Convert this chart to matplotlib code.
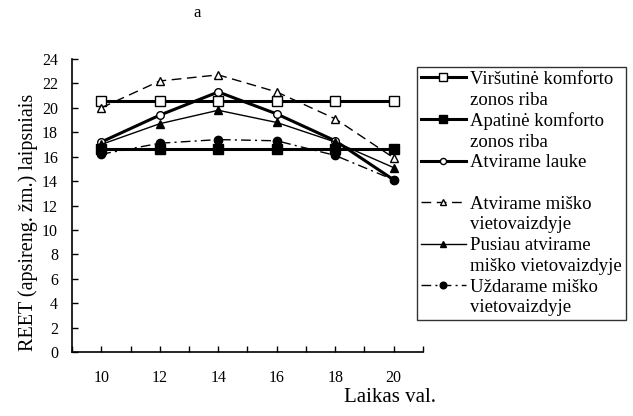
import matplotlib.pyplot as plt
from matplotlib.lines import Line2D

plt.rcParams['font.family'] = ['Liberation Serif', 'DejaVu Serif']

# Hours of the day and REET values (°C) for each site
hours = [10, 12, 14, 16, 18, 20]
upper_limit = [20.6, 20.6, 20.6, 20.6, 20.6, 20.6]
lower_limit = [16.6, 16.6, 16.6, 16.6, 16.6, 16.6]
open_field = [17.2, 19.4, 21.3, 19.5, 17.3, 14.1]
open_forest = [20.0, 22.2, 22.7, 21.3, 19.1, 15.9]
semi_open_forest = [17.0, 18.7, 19.8, 18.8, 17.2, 15.1]
closed_forest = [16.2, 17.1, 17.4, 17.3, 16.1, 14.1]

labels = [
    ['Viršutinė komforto', 'zonos riba'],
    ['Apatinė komforto', 'zonos riba'],
    ['Atvirame lauke', ''],
    ['Atvirame miško', 'vietovaizdyje'],
    ['Pusiau atvirame', 'miško vietovaizdyje'],
    ['Uždarame miško', 'vietovaizdyje'],
]

fig = plt.figure(figsize=(6.33, 4.16), dpi=100)
ax = fig.add_axes([72 / 633, 1 - 352 / 416, (423 - 72) / 633, (352 - 59) / 416])

styles = [
    dict(color='black', lw=2.2, ls='-', marker='s', ms=6.5, mfc='white', mec='black', mew=1),
    dict(color='black', lw=2.2, ls='-', marker='s', ms=6.5, mfc='black', mec='black'),
    dict(color='black', lw=2.2, ls='-', marker='o', ms=5.5, mfc='white', mec='black', mew=1),
    dict(color='black', lw=1.0, ls=(0, (7, 4)), marker='^', ms=6, mfc='white', mec='black', mew=1),
    dict(color='black', lw=1.0, ls='-', marker='^', ms=6, mfc='black', mec='black'),
    dict(color='black', lw=1.0, ls=(0, (7, 3, 1.5, 3)), marker='o', ms=6, mfc='black', mec='black'),
]
series = [upper_limit, lower_limit, open_field, open_forest, semi_open_forest, closed_forest]

for vals, st in zip(series, styles):
    ax.plot(hours, vals, clip_on=False, **st)

ax.set_xlim(9, 21)
ax.set_ylim(0, 24)
ax.set_xticks(range(9, 22))
ax.set_xticklabels(['' if h % 2 else str(h) for h in range(9, 22)])
ax.set_yticks(range(0, 25, 2))
ax.tick_params(axis='both', direction='in', length=4, width=1, labelsize=11.5)
ax.tick_params(axis='x', pad=13)
ax.tick_params(axis='y', pad=10)
for side in ['top', 'right']:
    ax.spines[side].set_visible(False)
for side in ['left', 'bottom']:
    ax.spines[side].set_linewidth(1.2)

ax.set_ylabel('REET (apsireng. žm.) laipsniais', fontsize=14.5)
ax.yaxis.set_label_coords(-(72 - 28) / 351, (352 - 222) / 293)
ax.yaxis.label.set_va('center')
fig.text(390 / 633, 1 - 398 / 416, 'Laikas val.', fontsize=15, ha='center', va='center')
fig.text(197 / 633, 1 - 13 / 416, 'a', fontsize=12, ha='center', va='center')

# legend: one row per text line, continuation rows get an empty handle
leg_handles = []
leg_labels = []
for st, (first, second) in zip(styles, labels):
    h = dict(st)
    h['ms'] = h['ms'] * 0.8
    leg_handles.append(Line2D([], [], **h))
    leg_labels.append(first)
    leg_handles.append(Line2D([], [], ls='none'))
    leg_labels.append(second)

leg = fig.legend(leg_handles, leg_labels, loc='upper left',
                 bbox_to_anchor=(417 / 633, 1 - 67 / 416),
                 frameon=True, fancybox=False, edgecolor='black',
                 fontsize=13.5, labelspacing=0.19, handlelength=2.4,
                 handletextpad=0.25, borderpad=0.2, borderaxespad=0)
leg.get_frame().set_linewidth(1.0)

fig.savefig('out.png', dpi=100)
